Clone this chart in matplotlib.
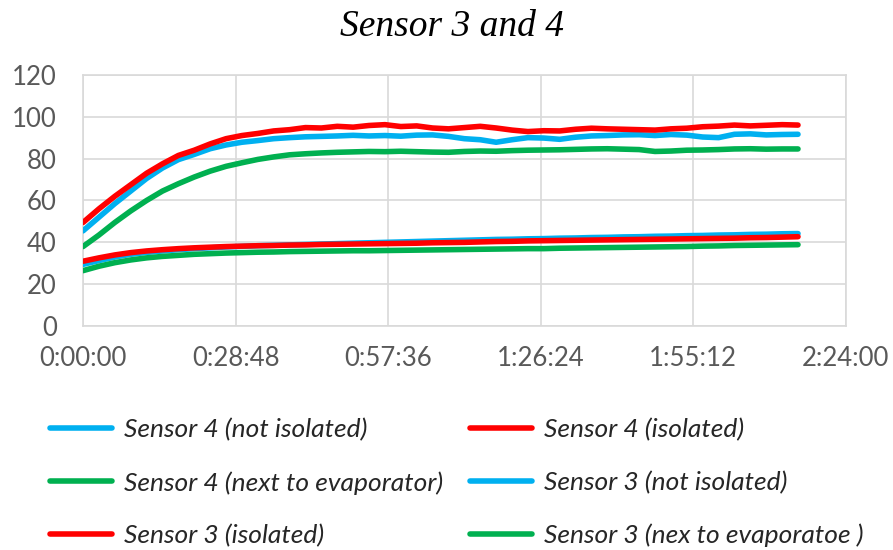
import numpy as np
import matplotlib
matplotlib.use("Agg")
import matplotlib.pyplot as plt
from matplotlib.ticker import FuncFormatter, MultipleLocator

# elapsed time in minutes
minutes = [0, 3, 6, 9, 12, 15, 18, 21, 24, 27, 30, 33, 36, 39, 42, 45, 48, 51, 54, 57,
           60, 63, 66, 69, 72, 75, 78, 81, 84, 87, 90, 93, 96, 99, 102, 105, 108, 111,
           114, 117, 120, 123, 126, 129, 132, 135]

s4_not_isolated = [45.5, 52, 58.5, 64.5, 70.5, 75.5, 79.5, 82, 84.7, 86.5, 87.8, 88.6, 89.5,
                   90, 90.4, 90.6, 90.8, 91.1, 90.8, 91.0, 90.7, 91.2, 91.3, 90.6, 89.5, 89.0,
                   87.8, 89.0, 90.0, 89.8, 89.2, 90.2, 90.8, 91.0, 91.3, 91.4, 91.0, 91.5,
                   91.2, 90.3, 90.0, 91.6, 91.8, 91.3, 91.5, 91.6]
s4_isolated = [49.5, 56, 62, 67.5, 73, 77.5, 81.5, 84, 87, 89.5, 91, 92, 93.2, 93.8, 94.8,
               94.6, 95.4, 95.0, 95.8, 96.2, 95.3, 95.6, 94.6, 94.2, 94.8, 95.4, 94.6, 93.6,
               92.9, 93.3, 93.2, 94.0, 94.5, 94.2, 94.0, 93.8, 93.6, 94.2, 94.5, 95.2, 95.5,
               96.0, 95.6, 95.9, 96.2, 96.0]
s4_next_evap = [38, 43.5, 49.5, 55, 60, 64.5, 68, 71.2, 74, 76.3, 78, 79.6, 80.8, 81.8, 82.3,
                82.7, 83.0, 83.2, 83.4, 83.3, 83.5, 83.3, 83.1, 83.0, 83.4, 83.6, 83.5, 83.8,
                84.0, 84.1, 84.2, 84.4, 84.6, 84.7, 84.5, 84.3, 83.4, 83.6, 84.0, 84.1, 84.3,
                84.6, 84.7, 84.5, 84.6, 84.6]
s3_not_isolated = [29.5, 31.3, 33, 34.3, 35.2, 35.9, 36.5, 37, 37.4, 37.8, 38.1, 38.4, 38.6,
                   38.8, 39.0, 39.2, 39.4, 39.6, 39.8, 40.0, 40.2, 40.4, 40.6, 40.8, 41.0,
                   41.2, 41.4, 41.5, 41.7, 41.8, 42.0, 42.1, 42.3, 42.4, 42.6, 42.7, 42.9,
                   43.0, 43.2, 43.3, 43.5, 43.6, 43.8, 43.9, 44.1, 44.2]
s3_isolated = [31, 32.6, 34, 35.1, 35.9, 36.5, 37, 37.4, 37.7, 38, 38.2, 38.4, 38.5, 38.7,
               38.8, 39.0, 39.1, 39.2, 39.3, 39.4, 39.5, 39.6, 39.8, 39.9, 40.0, 40.2, 40.4,
               40.5, 40.7, 40.8, 40.9, 41.0, 41.1, 41.2, 41.3, 41.4, 41.5, 41.6, 41.7, 41.8,
               41.9, 42.0, 42.2, 42.3, 42.5, 42.7]
s3_next_evap = [26.5, 28.6, 30.3, 31.6, 32.6, 33.3, 33.8, 34.3, 34.6, 34.9, 35.1, 35.3, 35.4,
                35.6, 35.7, 35.8, 35.9, 36.0, 36.0, 36.1, 36.2, 36.3, 36.4, 36.5, 36.6, 36.7,
                36.8, 36.9, 37.0, 37.0, 37.2, 37.3, 37.4, 37.5, 37.6, 37.7, 37.8, 37.9, 38.0,
                38.2, 38.3, 38.5, 38.6, 38.7, 38.8, 38.9]

series = [s4_not_isolated, s4_isolated, s4_next_evap, s3_not_isolated, s3_isolated, s3_next_evap]
labels = [
    "Sensor 4 (not isolated)",
    "Sensor 4 (isolated)",
    "Sensor 4 (next to evaporator)",
    "Sensor 3 (not isolated)",
    "Sensor 3 (isolated)",
    "Sensor 3 (nex to evaporatoe )",
]
colors = ["#00B0F0", "#FF0000", "#00B050", "#00B0F0", "#FF0000", "#00B050"]


def hms(v, pos=None):
    total = int(round(v * 60))
    return f"{total // 3600}:{(total % 3600) // 60:02d}:{total % 60:02d}"


fig = plt.figure(figsize=(8.93, 5.5), dpi=100)
ax = fig.add_axes([0.093, 0.407, 0.854, 0.457])

lines = []
for vals, lab, col in zip(series, labels, colors):
    (ln,) = ax.plot(minutes, vals, color=col, lw=4.0, label=lab, solid_capstyle="round", zorder=3)
    lines.append(ln)

ax.set_xlim(0, 144)
ax.set_ylim(0, 120)
ax.xaxis.set_major_locator(MultipleLocator(28.8))
ax.yaxis.set_major_locator(MultipleLocator(20))
ax.xaxis.set_major_formatter(FuncFormatter(hms))
ax.grid(True, color="#d9d9d9", lw=1.2, zorder=0)
for sp in ax.spines.values():
    sp.set_color("#d9d9d9")
    sp.set_linewidth(1.2)
ax.tick_params(length=0, labelsize=18.5, labelcolor="#595959")
ax.tick_params(axis="y", pad=19)
ax.tick_params(axis="x", pad=14)
for lbl in ax.get_xticklabels() + ax.get_yticklabels():
    lbl.set_fontfamily("Lato")

fig.text(0.506, 0.952, "Sensor 3 and 4", ha="center", va="center",
         fontsize=27, style="italic", family="Liberation Serif", color="#000000")

# legend rows go left to right, matplotlib fills columns first
order = [0, 2, 4, 1, 3, 5]
fig.legend([lines[i] for i in order], [labels[i] for i in order],
           ncol=2, loc="upper left", bbox_to_anchor=(0.029, 0.283), frameon=False,
           prop={"family": "Lato", "style": "italic", "size": 19},
           handlelength=2.35, handletextpad=0.45, columnspacing=1.05, labelspacing=1.12,
           labelcolor="#262626")

fig.savefig("out.png", dpi=100)
